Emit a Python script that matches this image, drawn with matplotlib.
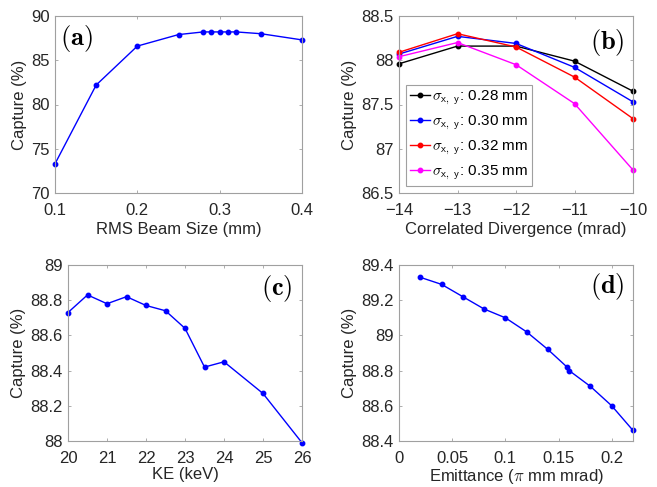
import matplotlib as mpl
mpl.use('Agg')
from matplotlib import pyplot as plt

mpl.rc('font', family='Liberation Sans', size=12)
mpl.rc('mathtext', fontset='cm')
mpl.rc('axes', edgecolor='#a0a0a0', linewidth=0.8, labelcolor='#262626', labelpad=3)
mpl.rc('xtick', direction='in', top=True, color='#a0a0a0', labelcolor='#262626', labelsize=12)
mpl.rc('ytick', direction='in', right=True, color='#a0a0a0', labelcolor='#262626', labelsize=12)
mpl.rc('xtick.major', size=2.5, width=0.6, pad=7)
mpl.rc('ytick.major', size=2.5, width=0.6, pad=4)

# (a) capture vs RMS beam size
beam_size = [0.1, 0.15, 0.2, 0.25, 0.28, 0.29, 0.3, 0.31, 0.32, 0.35, 0.4]
capture_a = [73.3, 82.2, 86.6, 87.9, 88.2, 88.2, 88.2, 88.2, 88.2, 88.0, 87.3]

# (b) capture vs correlated divergence, one series per beam size
divergence = [-14, -13, -12, -11, -10]
sigma_labels = ['0.28', '0.30', '0.32', '0.35']
sigma_colors = ['k', 'b', 'r', '#ff00ff']
capture_028 = [87.96, 88.16, 88.16, 87.99, 87.65]
capture_030 = [88.07, 88.27, 88.19, 87.92, 87.53]
capture_032 = [88.09, 88.30, 88.15, 87.81, 87.34]
capture_035 = [88.04, 88.20, 87.95, 87.51, 86.76]

# (c) capture vs kinetic energy
ke = [20, 20.5, 21, 21.5, 22, 22.5, 23, 23.5, 24, 25, 26]
capture_c = [88.73, 88.83, 88.78, 88.82, 88.77, 88.74, 88.64, 88.42, 88.45, 88.27, 87.99]

# (d) capture vs emittance
emittance = [0.02, 0.04, 0.06, 0.08, 0.1, 0.12, 0.14, 0.158, 0.16, 0.18, 0.2, 0.22]
capture_d = [89.33, 89.29, 89.22, 89.15, 89.10, 89.02, 88.92, 88.82, 88.80, 88.71, 88.60, 88.46]

W, H = 657, 487
fig = plt.figure(figsize=(W/100, H/100), dpi=100)

def add_ax(x0, y0, x1, y1):
    # pixel box -> figure fraction
    return fig.add_axes([x0/W, 1 - y1/H, (x1-x0)/W, (y1-y0)/H])

ax_a = add_ax(55, 16, 302, 193)
ax_b = add_ax(399, 16, 633, 193)
ax_c = add_ax(68, 265, 302, 441)
ax_d = add_ax(399, 265, 633, 441)

line_kw = dict(lw=1, marker='o', ms=3.2)

ax_a.plot(beam_size, capture_a, color='b', **line_kw)
ax_a.set_xlim(0.1, 0.4)
ax_a.set_ylim(70, 90)
ax_a.set_xticks([0.1, 0.2, 0.3, 0.4])
ax_a.set_yticks([70, 75, 80, 85, 90])
ax_a.set_xlabel('RMS Beam Size (mm)')

series_b = [capture_028, capture_030, capture_032, capture_035]
for vals, lab, c in zip(series_b, sigma_labels, sigma_colors):
    ax_b.plot(divergence, vals, color=c, label=r'$\sigma_{\mathsf{x,\ y}}$: %s mm' % lab, **line_kw)
ax_b.set_xlim(-14, -10)
ax_b.set_ylim(86.5, 88.5)
ax_b.set_xticks(divergence)
ax_b.set_yticks([86.5, 87, 87.5, 88, 88.5])
ax_b.set_yticklabels(['86.5', '87', '87.5', '88', '88.5'])
ax_b.set_xlabel('Correlated Divergence (mrad)')
leg = ax_b.legend(loc='lower left', bbox_to_anchor=(0.03, 0.04), borderaxespad=0,
                  fancybox=False, fontsize=11, handlelength=1.3, handletextpad=0.15,
                  labelspacing=0.45, borderpad=0.25)
leg.get_frame().set_edgecolor('#a0a0a0')
leg.get_frame().set_linewidth(0.8)
leg.get_frame().set_alpha(1)

ax_c.plot(ke, capture_c, color='b', **line_kw)
ax_c.set_xlim(20, 26)
ax_c.set_ylim(88, 89)
ax_c.set_xticks(range(20, 27))
ax_c.set_yticks([88, 88.2, 88.4, 88.6, 88.8, 89])
ax_c.set_yticklabels(['88', '88.2', '88.4', '88.6', '88.8', '89'])
ax_c.set_xlabel('KE (keV)', labelpad=1)

ax_d.plot(emittance, capture_d, color='b', **line_kw)
ax_d.set_xlim(0, 0.22)
ax_d.set_ylim(88.4, 89.4)
ax_d.set_xticks([0, 0.05, 0.1, 0.15, 0.2])
ax_d.set_xticklabels(['0', '0.05', '0.1', '0.15', '0.2'])
ax_d.set_yticks([88.4, 88.6, 88.8, 89, 89.2, 89.4])
ax_d.set_yticklabels(['88.4', '88.6', '88.8', '89', '89.2', '89.4'])
ax_d.set_xlabel(r'Emittance ($\pi$ mm mrad)', labelpad=1)

for ax in [ax_a, ax_b, ax_c, ax_d]:
    ax.set_ylabel('Capture (%)')
    for ln in ax.get_lines():
        ln.set_clip_on(False)

panel_kw = dict(fontsize=19, va='center')
ax_a.text(0.02, 0.875, r'$\mathbf{(a)}$', transform=ax_a.transAxes, ha='left', **panel_kw)
ax_b.text(0.965, 0.853, r'$\mathbf{(b)}$', transform=ax_b.transAxes, ha='right', **panel_kw)
ax_c.text(0.96, 0.864, r'$\mathbf{(c)}$', transform=ax_c.transAxes, ha='right', **panel_kw)
ax_d.text(0.965, 0.875, r'$\mathbf{(d)}$', transform=ax_d.transAxes, ha='right', **panel_kw)

fig.savefig('out.png', dpi=100)
